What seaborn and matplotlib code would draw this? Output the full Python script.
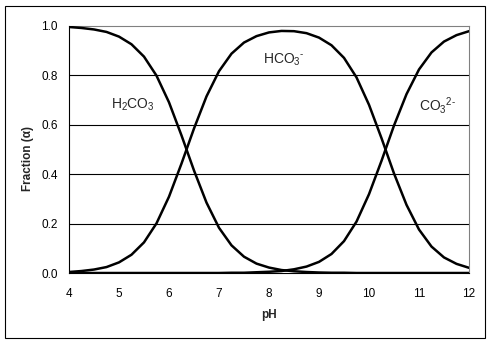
import matplotlib
matplotlib.use("Agg")
import matplotlib.pyplot as plt
from matplotlib import font_manager
from matplotlib.patches import Rectangle
import numpy as np
import pandas as pd
import seaborn as sns

# pH grid and species fractions of the carbonate system
ph = [4.00, 4.25, 4.50, 4.75, 5.00, 5.25, 5.50, 5.75, 6.00, 6.25, 6.50,
      6.75, 7.00, 7.25, 7.50, 7.75, 8.00, 8.25, 8.50, 8.75, 9.00, 9.25,
      9.50, 9.75, 10.00, 10.25, 10.50, 10.75, 11.00, 11.25, 11.50, 11.75, 12.00]
h2co3 = [0.996, 0.992, 0.986, 0.976, 0.957, 0.926, 0.876, 0.799, 0.691, 0.557, 0.415,
         0.285, 0.183, 0.112, 0.066, 0.038, 0.022, 0.012, 0.007, 0.004, 0.002, 0.001,
         0.001, 0.000, 0.000, 0.000, 0.000, 0.000, 0.000, 0.000, 0.000, 0.000, 0.000]
hco3 = [0.004, 0.008, 0.014, 0.024, 0.043, 0.074, 0.124, 0.201, 0.309, 0.443, 0.585,
        0.715, 0.817, 0.888, 0.933, 0.959, 0.974, 0.980, 0.979, 0.971, 0.953, 0.922,
        0.871, 0.792, 0.681, 0.546, 0.403, 0.276, 0.176, 0.107, 0.063, 0.037, 0.021]
co3 = [0.000, 0.000, 0.000, 0.000, 0.000, 0.000, 0.000, 0.000, 0.000, 0.000, 0.000,
       0.000, 0.000, 0.001, 0.001, 0.003, 0.005, 0.008, 0.015, 0.026, 0.045, 0.077,
       0.129, 0.208, 0.319, 0.454, 0.597, 0.724, 0.824, 0.893, 0.937, 0.963, 0.979]
species = ["H2CO3", "HCO3-", "CO3 2-"]
species_labels = [r"H$_2$CO$_3$", r"HCO$_3$$^{\text{-}}$", r"CO$_3$$^{2\text{-}}$"]
x_ticks = [4, 5, 6, 7, 8, 9, 10, 11, 12]
y_ticks = [0.0, 0.2, 0.4, 0.6, 0.8, 1.0]

df = pd.DataFrame({
    "pH": ph * 3,
    "fraction": h2co3 + hco3 + co3,
    "species": [s for s in species for _ in ph],
})

sns.set_theme(style="white")
available = {f.name for f in font_manager.fontManager.ttflist}
base_font = "Liberation Sans" if "Liberation Sans" in available else "DejaVu Sans"
narrow_font = "Liberation Sans Narrow" if "Liberation Sans Narrow" in available else base_font
plt.rcParams["font.family"] = [base_font, "DejaVu Sans"]
plt.rcParams["mathtext.fontset"] = "custom"
plt.rcParams["mathtext.rm"] = base_font
plt.rcParams["mathtext.it"] = base_font

fig = plt.figure(figsize=(4.93, 3.44), dpi=100)
fig.patch.set_facecolor("white")
ax = fig.add_axes([69 / 493, 71 / 344, 400 / 493, 247 / 344])

sns.lineplot(data=df, x="pH", y="fraction", units="species", estimator=None,
             color="black", linewidth=1.8, ax=ax, legend=False, zorder=3)

ax.set_xlim(4, 12)
ax.set_ylim(0, 1)
ax.set_xticks(x_ticks)
ax.set_xticklabels([str(t) for t in x_ticks])
ax.set_yticks(y_ticks)
ax.set_yticklabels([f"{t:.1f}" for t in y_ticks])

for t in y_ticks[1:-1]:
    ax.axhline(t, color="black", linewidth=0.8, zorder=1)

for side in ("left", "bottom"):
    ax.spines[side].set_color("black")
    ax.spines[side].set_linewidth(0.8)
for side in ("top", "right"):
    ax.spines[side].set_color("#808080")
    ax.spines[side].set_linewidth(0.8)
    ax.spines[side].set_visible(True)

ax.tick_params(axis="both", which="major", direction="out", length=3,
               width=0.8, color="black", labelsize=8.5, labelcolor="black")
ax.tick_params(axis="x", pad=8)
ax.tick_params(axis="y", pad=5)

ax.set_xlabel("pH", fontsize=8.5, fontweight="bold", labelpad=6)
ax.set_ylabel("Fraction (α)", fontsize=8.5, fontweight="bold",
              family=[narrow_font, "DejaVu Sans"])
ax.yaxis.set_label_coords(-0.088, 0.465)

ax.text(5.28, 0.68, species_labels[0], fontsize=10, ha="center", va="center")
ax.text(8.3, 0.863, species_labels[1], fontsize=10, ha="center", va="center")
ax.text(11.38, 0.68, species_labels[2], fontsize=10, ha="center", va="center")

fig.patches.append(Rectangle((5 / 493, 6 / 344), 480 / 493, 332 / 344,
                             transform=fig.transFigure, fill=False,
                             edgecolor="black", linewidth=0.8))

fig.savefig("out.png", dpi=100)
